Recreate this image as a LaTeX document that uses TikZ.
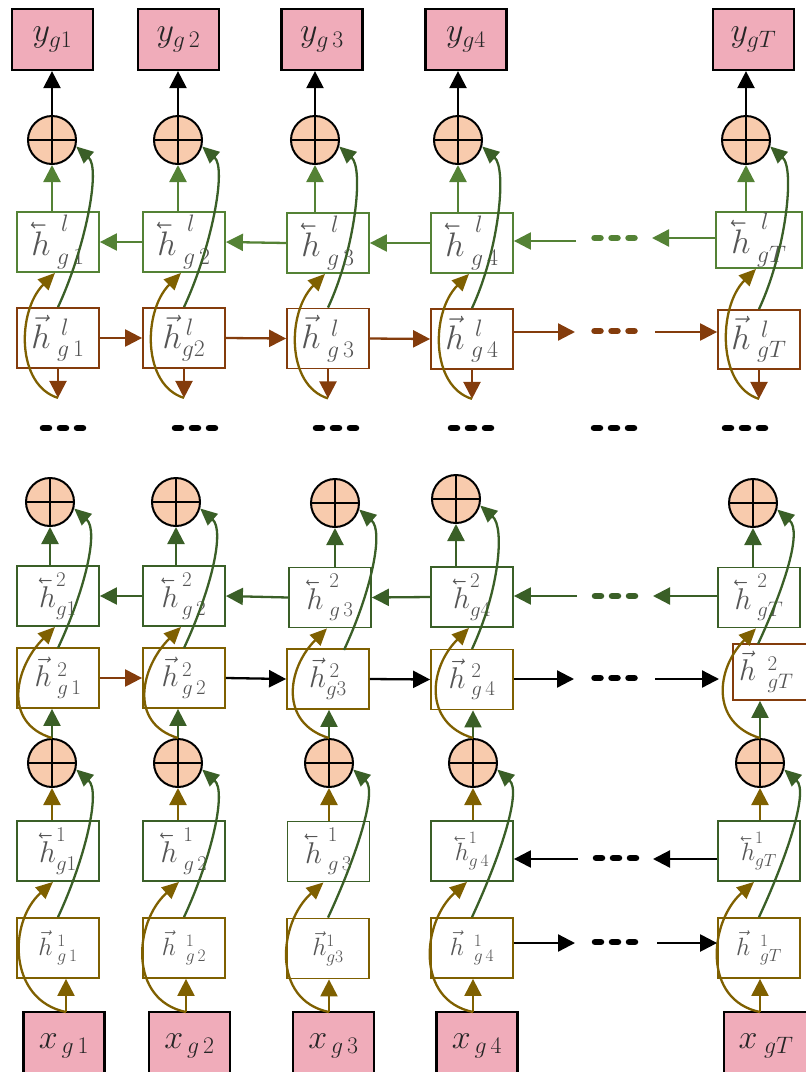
\RequirePackage{fix-cm}
\documentclass[tikz,border=0pt]{standalone}
\usepackage{graphicx}
\usetikzlibrary{arrows.meta}
\definecolor{pinkF}{HTML}{F0ACBA}
\definecolor{oplF}{HTML}{F8CBAD}
\definecolor{cG}{HTML}{548235}
\definecolor{cD}{HTML}{3A5F27}
\definecolor{cB}{HTML}{843C0C}
\definecolor{cY}{HTML}{7F6000}
\definecolor{txt}{HTML}{555555}
\newcommand{\lv}[1]{\reflectbox{$\vec{\reflectbox{$#1$}}$}}
\begin{document}
\begin{tikzpicture}[x=1pt,y=-1pt,
  ybox/.style={draw=black, fill=pinkF, line width=2.2pt, minimum width=81pt, minimum height=61pt, inner sep=0pt, text=black!85, font=\fontsize{34}{38}\selectfont},
  xbox/.style={ybox, minimum height=68pt},
  hbox/.style={draw, fill=white, line width=1.8pt, minimum width=82pt, minimum height=60pt, inner sep=0pt, text=txt},
  hA/.style={font=\fontsize{34}{38}\selectfont},
  hB/.style={font=\fontsize{30}{34}\selectfont},
  hC/.style={font=\fontsize{25}{28}\selectfont},
  opl/.style={circle, draw=black, fill=oplF, line width=2pt, minimum size=48pt, inner sep=0pt,
    path picture={\draw[line width=2pt] (path picture bounding box.north) -- (path picture bounding box.south)
      (path picture bounding box.west) -- (path picture bounding box.east);}},
  arr/.style={-{Triangle[length=17pt,width=17pt]}, line width=2.3pt},
  crv/.style={-{Triangle[length=17pt,width=15pt]}, line width=2.3pt},
  dots/.style={line width=6.5pt, line cap=round, dash pattern=on 6pt off 11pt}
]
\useasboundingbox (0,0) rectangle (806,1072);
\clip (0,0) rectangle (806,1072);

% ---------- top outputs ----------
\node[ybox] (y1) at (52.5,39.5) {$y_{g1}$};
\node[ybox] (y2) at (178.5,39.5) {$y_{g\,2}$};
\node[ybox] (y3) at (322,39.5) {$y_{g\,3}$};
\node[ybox] (y4) at (466,39.5) {$y_{g4}$};
\node[ybox] (yT) at (753.5,39.5) {$y_{gT}$};

\node[opl] (o1) at (52,140) {};
\node[opl] (o2) at (178,140) {};
\node[opl] (o3) at (315,140) {};
\node[opl] (o4) at (458,140) {};
\node[opl] (oT) at (746,140) {};

% ---------- layer l ----------
\node[hbox,hA,draw=cG] (gl1) at (58,242) {$\lv{h}^{\;\,l}_{\;g\,1}$};
\node[hbox,hA,draw=cG] (gl2) at (184,242) {$\lv{h}^{\;\,l}_{\;g\,2}$};
\node[hbox,hA,draw=cG] (gl3) at (328,243) {$\lv{h}^{\;\,l}_{\;g\,3}$};
\node[hbox,hA,draw=cG] (gl4) at (472,243) {$\lv{h}^{\;\,l}_{\;g\,4}$};
\node[hbox,hA,draw=cG,minimum width=86pt,minimum height=56pt] (glT) at (759,240) {$\lv{h}^{\;\,l}_{\;gT}$};

\node[hbox,hA,draw=cB] (br1) at (58,338) {$\vec{h}^{\;\,l}_{\;g\,1}$};
\node[hbox,hA,draw=cB] (br2) at (184,338) {$\vec{h}^{\,l}_{g2}$};
\node[hbox,hA,draw=cB] (br3) at (328,338.5) {$\vec{h}^{\;\,l}_{\;g\,3}$};
\node[hbox,hA,draw=cB] (br4) at (472,339) {$\vec{h}^{\;\,l}_{\;g\,4}$};
\node[hbox,hA,draw=cB,minimum height=59pt] (brT) at (759,339.5) {$\vec{h}^{\;\,l}_{\;gT}$};

% ---------- layer 2 ----------
\node[opl] (p1) at (50,502) {};
\node[opl] (p2) at (176,502) {};
\node[opl] (p3) at (335,503) {};
\node[opl] (p4) at (456,499) {};
\node[opl] (pT) at (753,503) {};

\node[hbox,hB,draw=cD] (g21) at (58,596) {$\lv{h}^{2}_{g1}$};
\node[hbox,hB,draw=cD] (g22) at (184,596) {$\lv{h}^{\,2}_{\,g\,2}$};
\node[hbox,hB,draw=cD] (g23) at (330,597.5) {$\lv{h}^{\;2}_{\;g\,3}$};
\node[hbox,hB,draw=cD] (g24) at (472,597) {$\lv{h}^{2}_{g4}$};
\node[hbox,hB,draw=cD] (g2T) at (759,597.5) {$\lv{h}^{\;2}_{\;gT}$};

\node[hbox,hB,draw=cY] (f21) at (58,678) {$\vec{h}^{\;2}_{\;g\,1}$};
\node[hbox,hB,draw=cY] (f22) at (184,678) {$\vec{h}^{\,2}_{\,g\,2}$};
\node[hbox,hB,draw=cY] (f23) at (328,679) {$\vec{h}^{\,2}_{g3}$};
\node[hbox,hB,draw=cY] (f24) at (472,679.5) {$\vec{h}^{\;2}_{\;g\,4}$};
\node[hbox,hB,draw=cB,minimum height=56pt,text width=70pt,align=left] (f2T) at (774,672) {$\vec{h}^{\;\;2}_{\;\;gT}$};

% ---------- layer 1 ----------
\node[opl] (m1) at (52,763) {};
\node[opl] (m2) at (178,763) {};
\node[opl] (m3) at (329,763) {};
\node[opl] (m4) at (473,763) {};
\node[opl] (mT) at (760,763) {};

\node[hbox,hB,draw=cD] (g11) at (58,851) {$\lv{h}^{1}_{g1}$};
\node[hbox,hB,draw=cD] (g12) at (184,851) {$\lv{h}^{\;1}_{\;g\,2}$};
\node[hbox,hB,draw=cD] (g13) at (328.5,851.5) {$\lv{h}^{\;1}_{\;g\,3}$};
\node[hbox,hC,draw=cD] (g14) at (472,851) {$\lv{h}^{1}_{g\,4}$};
\node[hbox,hC,draw=cD] (g1T) at (759,851) {$\lv{h}^{1}_{gT}$};

\node[hbox,hC,draw=cY] (f11) at (58,948) {$\vec{h}^{\;1}_{\;g\,1}$};
\node[hbox,hC,draw=cY] (f12) at (184,948) {$\vec{h}^{\;\;1}_{\;\;g\,2}$};
\node[hbox,hC,draw=cY] (f13) at (328,948.5) {$\vec{h}^{1}_{g3}$};
\node[hbox,hC,draw=cY] (f14) at (472,948) {$\vec{h}^{\;\;1}_{\;\;g\,4}$};
\node[hbox,hC,draw=cY] (f1T) at (759,948) {$\vec{h}^{\;\;1}_{\;\;gT}$};

\node[xbox] (x1) at (64,1046) {$x_{\,g\,1}$};
\node[xbox] (x2) at (189.5,1046) {$x_{\,g\,2}$};
\node[xbox] (x3) at (333.5,1046) {$x_{\,g\,3}$};
\node[xbox] (x4) at (477,1046) {$x_{\,g\,4}$};
\node[xbox,minimum width=84pt] (xT) at (766,1046) {$x_{\;gT}$};

% ---------- coordinates ----------
\coordinate (s21) at (58,648);
\coordinate (s22) at (184,648);
\coordinate (s23) at (344,650);
\coordinate (s24) at (472,649);
\coordinate (s2T) at (758,644);
\coordinate (xt1) at (66,1012);
\coordinate (xt2) at (186,1012);
\coordinate (xt3) at (329,1012);
\coordinate (xt4) at (473,1012);
\coordinate (xtT) at (760,1012);

% ---------- per-column connectors ----------
\foreach \c in {1,2,3,4,T}{
  % top
  \draw[arr] (o\c.north) -- (o\c.north |- y\c.south);
  \draw[arr,cG] (o\c |- gl\c.north) -- (o\c.south);
  \draw[arr,cB] (br\c.south) -- ++(0,29) coordinate (bt\c);
  \draw[crv,cY] (bt\c) .. controls +(-42,-13) and +(-38,38) .. ([xshift=-3pt]gl\c.south);
  \draw[crv,cD] (br\c.north) .. controls +(27,-58) and +(25,22) .. (o\c.-15);
  % layer 2
  \draw[arr,cD] (p\c |- g2\c.north) -- (p\c.south);
  \draw[arr,cD] (m\c.north) -- (m\c.north |- f2\c.south);
  \draw[crv,cY] (m\c.north) .. controls +(-50,-15) and +(-40,40) .. ([xshift=-3pt]g2\c.south);
  \draw[crv,cD] (s2\c) .. controls +(27,-58) and +(25,22) .. (p\c.-15);
  % layer 1
  \draw[arr,cY] (m\c |- g1\c.north) -- (m\c.south);
  \draw[arr,cY] (xt\c) -- (xt\c |- f1\c.south);
  \draw[crv,cY] (xt\c) .. controls +(-58,-12) and +(-45,40) .. ([xshift=-5pt]g1\c.south);
  \draw[crv,cD] (f1\c.north) .. controls +(27,-58) and +(25,22) .. (m\c.-15);
}

% ---------- horizontal chains ----------
% layer l backward
\draw[arr,cG] (gl2.west) -- (gl1.east);
\draw[arr,cG] (gl3.west) -- (gl2.east);
\draw[arr,cG] (gl4.west) -- (gl3.east);
\coordinate (a1) at (576,241);
\coordinate (a2) at (652,238);
\draw[arr,cG] (a1) -- (a1 -| gl4.east);
\draw[arr,cG] (a2 -| glT.west) -- (a2);
\draw[dots,cG] (594.5,238) -- (634.5,238);
% layer l forward
\draw[arr,cB] (br1.east) -- (br2.west);
\draw[arr,cB] (br2.east) -- (br3.west);
\draw[arr,cB] (br3.east) -- (br4.west);
\coordinate (b1) at (575,332);
\coordinate (b2) at (655,332);
\draw[arr,cB] (b1 -| br4.east) -- (b1);
\draw[arr,cB] (b2) -- (b2 -| brT.west);
\draw[dots,cB] (594.5,331) -- (634.5,331);

% middle dots
\foreach \cx in {63,195,336,471,614,745}
  \draw[dots,black] (\cx-20,428) -- (\cx+20,428);

% layer 2 backward
\draw[arr,cD] (g22.west) -- (g21.east);
\draw[arr,cD] (g23.west) -- (g22.east);
\draw[arr,cD] (g24.west) -- (g23.east);
\coordinate (c1) at (577,596);
\coordinate (c2) at (653,596);
\draw[arr,cD] (c1) -- (c1 -| g24.east);
\draw[arr,cD] (c2 -| g2T.west) -- (c2);
\draw[dots,cD] (595,596) -- (635,596);
% layer 2 forward
\draw[arr,cB] (f21.east) -- (f22.west);
\draw[arr,black] (f22.east) -- (f23.west);
\draw[arr,black] (f23.east) -- (f24.west);
\coordinate (d1) at (574,679);
\coordinate (d2) at (655,679);
\coordinate (d3) at (719,679);
\draw[arr,black] (d1 -| f24.east) -- (d1);
\draw[arr,black] (d2) -- (d3);
\draw[dots,black] (594.5,678) -- (634.5,678);

% layer 1 backward
\coordinate (e1) at (578,859);
\coordinate (e2) at (653,859);
\draw[arr,black] (e1) -- (e1 -| g14.east);
\draw[arr,black] (e2 -| g1T.west) -- (e2);
\draw[dots,black] (596,858) -- (636,858);
% layer 1 forward
\coordinate (h1) at (575,943);
\coordinate (h2) at (657,943);
\draw[arr,black] (h1 -| f14.east) -- (h1);
\draw[arr,black] (h2) -- (h2 -| f1T.west);
\draw[dots,black] (595,942) -- (635,942);
\end{tikzpicture}
\end{document}
